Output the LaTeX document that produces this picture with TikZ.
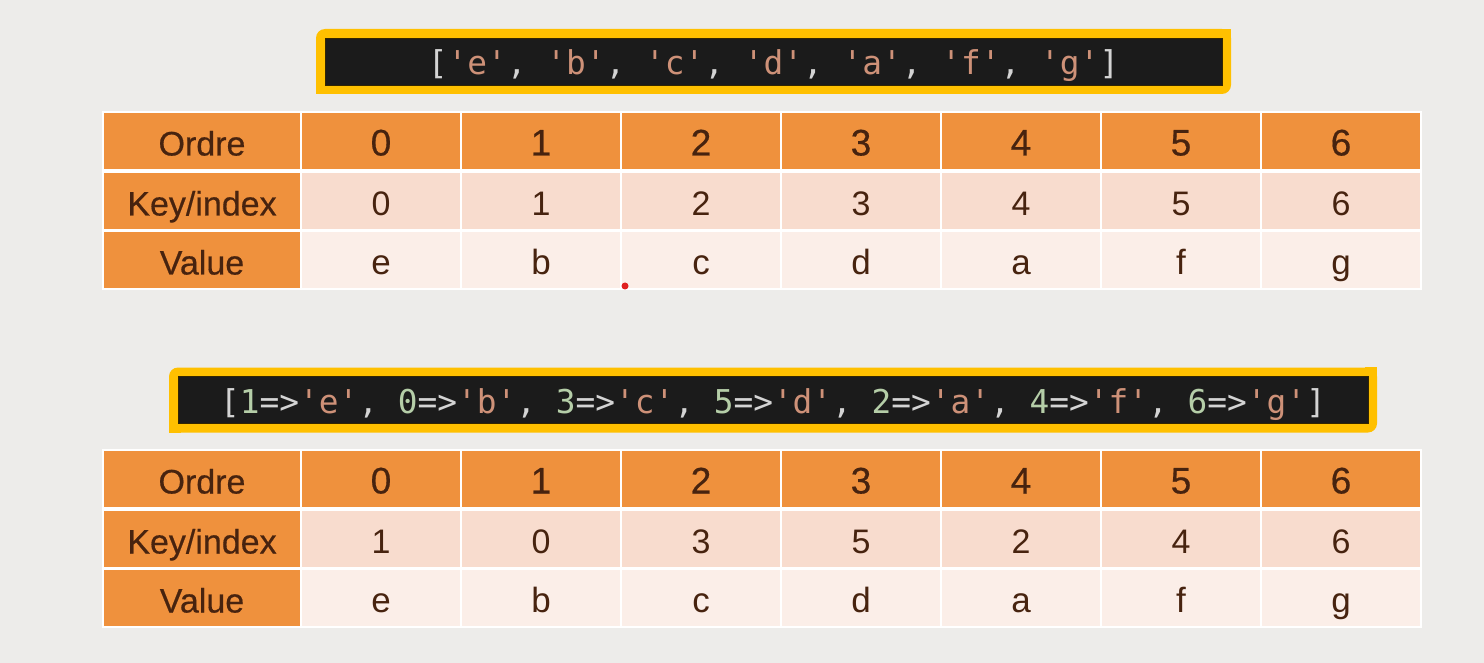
\documentclass[tikz,border=0pt]{standalone}
\usepackage{fontspec}
\setmainfont{Liberation Sans}
\newfontfamily\codefont{DejaVu Sans Mono}
\newfontfamily\headfont[FakeBold=0.5]{Liberation Sans}
\usepackage{tikz}
\usetikzlibrary{positioning}

\definecolor{bgray}{HTML}{EDECEA}
\definecolor{frameyellow}{HTML}{FFC000}
\definecolor{codeblack}{HTML}{1B1B1B}
\definecolor{cpunct}{HTML}{D4D4D4}
\definecolor{cstr}{HTML}{CE9178}
\definecolor{cnum}{HTML}{B5CEA8}
\definecolor{headorange}{HTML}{EF913D}
\definecolor{keyrose}{HTML}{F8DCCE}
\definecolor{valrose}{HTML}{FBEEE8}
\definecolor{celltext}{HTML}{47230F}
\definecolor{reddot}{HTML}{E02020}

\newcommand\codestr[1]{\textcolor{cstr}{'#1'}}
\newcommand\csep{\textcolor{cpunct}{,\ }}
\newcommand\kv[2]{\textcolor{cnum}{#1}\textcolor{cpunct}{=>}\codestr{#2}}

\tikzset{
  cellbox/.style={rectangle, draw=white, line width=1.5pt, inner sep=0pt,
    minimum width=160pt, minimum height=58pt, text=celltext,
    text height=29pt, text depth=0pt},
  headcell/.style={cellbox, fill=headorange, font=\headfont\fontsize{37}{42}\selectfont},
  labelcell/.style={headcell, minimum width=198pt, font=\headfont\fontsize{34}{40}\selectfont},
  keycell/.style={cellbox, fill=keyrose, font=\fontsize{34}{40}\selectfont},
  valcell/.style={cellbox, fill=valrose, font=\fontsize{35}{40}\selectfont},
  codeframe/.style={rectangle, rounded corners=9pt, fill=frameyellow,
    minimum height=65pt, inner sep=0pt},
  codeline/.style={rectangle, fill=codeblack, draw=black!80!frameyellow,
    line width=0.6pt, minimum height=47pt, inner sep=0pt,
    font=\codefont\fontsize{32.8}{38}\selectfont, text height=26pt, text depth=0pt}
}

\begin{document}
\begin{tikzpicture}[x=1pt,y=-1pt]
\useasboundingbox[fill=bgray] (0,0) rectangle (1484,663);

% first code box
\node[codeframe, minimum width=915pt] (frame1) at (773.5,61.5) {};
\fill[frameyellow] (frame1.north east) rectangle ++(-12,12);
\fill[frameyellow] (frame1.south west) rectangle ++(12,-12);
\node[codeline, minimum width=897pt] (code1) at (773.5,61.5)
{\textcolor{cpunct}{[}\codestr{e}\csep\codestr{b}\csep\codestr{c}\csep\codestr{d}\csep\codestr{a}\csep\codestr{f}\csep\codestr{g}\textcolor{cpunct}{]}};

% first table
\fill[white] (102,111) rectangle (1422,290);
\node[labelcell] (t1o) at (202,141) {Ordre};
\node[labelcell] (t1k) at (202,201) {Key/index};
\node[labelcell] (t1v) at (202,260) {Value};
\foreach \k/\v [count=\i from 0] in {0/e,1/b,2/c,3/d,4/a,5/f,6/g}{
  \node[headcell] (t1o\i) at (381+160*\i,141) {\i};
  \node[keycell] (t1k\i) at (381+160*\i,201) {\k};
  \node[valcell] (t1v\i) at (381+160*\i,260) {\v};
}
\fill[reddot] (625,286) circle (3.5pt);

% second code box
\node[codeframe, minimum width=1208pt] (frame2) at (773,400) {};
\fill[frameyellow] (frame2.north east) rectangle ++(-12,12);
\fill[frameyellow] (frame2.south west) rectangle ++(12,-12);
\node[codeline, minimum width=1190pt] (code2) at (773,400)
{\textcolor{cpunct}{[}\kv{1}{e}\csep\kv{0}{b}\csep\kv{3}{c}\csep\kv{5}{d}\csep\kv{2}{a}\csep\kv{4}{f}\csep\kv{6}{g}\textcolor{cpunct}{]}};

% second table
\fill[white] (102,449) rectangle (1422,628);
\node[labelcell] (t2o) at (202,479) {Ordre};
\node[labelcell] (t2k) at (202,539) {Key/index};
\node[labelcell] (t2v) at (202,598) {Value};
\foreach \k/\v [count=\i from 0] in {1/e,0/b,3/c,5/d,2/a,4/f,6/g}{
  \node[headcell] (t2o\i) at (381+160*\i,479) {\i};
  \node[keycell] (t2k\i) at (381+160*\i,539) {\k};
  \node[valcell] (t2v\i) at (381+160*\i,598) {\v};
}
\end{tikzpicture}
\end{document}
